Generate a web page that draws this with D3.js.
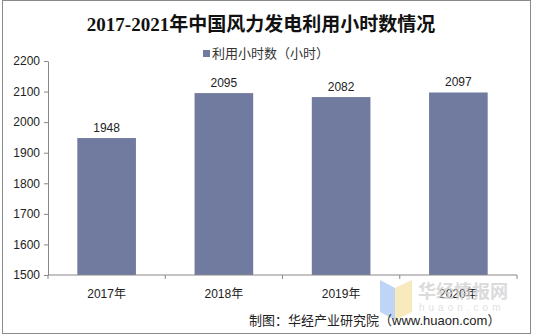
<!DOCTYPE html>
<html><head><meta charset="utf-8">
<script src="https://cdn.jsdelivr.net/npm/d3@7"></script>
<style>body{margin:0;background:#fff;}svg{display:block;}</style>
</head><body>
<svg id="c" width="533" height="335"></svg>
<script>
const title = "2017-2021年中国风力发电利用小时数情况";
const seriesName = "利用小时数（小时）";
const categories = ["2017年", "2018年", "2019年", "2020年"];
const values = [1948, 2095, 2082, 2097];
const yTicks = [1500, 1600, 1700, 1800, 1900, 2000, 2100, 2200];
const source = "制图：华经产业研究院（www.huaon.com）";

const svg = d3.select("#c");
const m = {l: 48, r: 517, t: 61, b: 275};
const barColor = "#717ba0";
const axisColor = "#888";
const sans = "'Liberation Sans', Arial, 'Noto Sans CJK SC', sans-serif";

svg.append("rect").attr("x", 2.5).attr("y", 0.5).attr("width", 528).attr("height", 333)
  .attr("fill", "#fff").attr("stroke", "#8a8a8a");

const x = d3.scaleBand().domain(categories).range([m.l, m.r]).paddingInner(0.5).paddingOuter(0.25);
const xb = d3.scaleBand().domain(categories).range([m.l, m.r]);
const y = d3.scaleLinear().domain([1500, 2200]).range([m.b, m.t]);

// title
svg.append("text").attr("x", 261).attr("y", 31).attr("text-anchor", "middle")
  .attr("font-family", "'Liberation Serif', 'Noto Sans CJK SC', serif").attr("font-weight", "bold")
  .attr("font-size", 19).attr("fill", "#111").text(title);

// legend
svg.append("rect").attr("x", 203).attr("y", 50).attr("width", 7).attr("height", 7).attr("fill", barColor);
svg.append("text").attr("x", 212).attr("y", 58).attr("font-family", sans).attr("font-size", 13)
  .attr("fill", "#333").text(seriesName);

// bars
svg.append("g").selectAll("rect").data(values).join("rect")
  .attr("x", (d, i) => x(categories[i])).attr("width", x.bandwidth())
  .attr("y", d => y(d)).attr("height", d => m.b - y(d)).attr("fill", barColor);

// labels
svg.append("g").selectAll("text").data(values).join("text")
  .attr("x", (d, i) => x(categories[i]) + x.bandwidth() / 2).attr("y", d => y(d) - 6)
  .attr("text-anchor", "middle").attr("font-family", sans).attr("font-size", 12).attr("fill", "#222")
  .text(d => d);

// y axis
const ya = svg.append("g").attr("transform", `translate(${m.l},0)`)
  .call(d3.axisLeft(y).tickValues(yTicks).tickFormat(d3.format("d")).tickSize(4).tickSizeOuter(0).tickPadding(4));
ya.selectAll("path,line").attr("stroke", axisColor);
ya.selectAll("text").attr("font-family", sans).attr("font-size", 12).attr("fill", "#222");

// x axis
const xg = svg.append("g").attr("transform", `translate(0,${m.b})`);
xg.append("line").attr("x1", m.l).attr("x2", m.r).attr("stroke", axisColor);
xg.selectAll("line.t").data(categories.concat([null])).join("line").attr("class", "t")
  .attr("x1", (d, i) => m.l + i * xb.bandwidth()).attr("x2", (d, i) => m.l + i * xb.bandwidth())
  .attr("y1", 0).attr("y2", 4).attr("stroke", axisColor);
xg.selectAll("text").data(categories).join("text")
  .attr("x", d => xb(d) + xb.bandwidth() / 2).attr("y", 23).attr("text-anchor", "middle")
  .attr("font-family", sans).attr("font-size", 12).attr("fill", "#222").text(d => d);

// watermark
const wm = svg.append("g").attr("opacity", 0.75);
wm.append("path").attr("d", "M380,280 L395,288 L395,320 L380,312 Z").attr("fill", "#a9c8f2");
wm.append("path").attr("d", "M395,288 L412,280 L412,312 L395,320 Z").attr("fill", "#f6e3a6");
wm.append("text").attr("x", 418).attr("y", 298).attr("font-family", "'Noto Sans CJK SC', sans-serif")
  .attr("font-weight", "bold").attr("font-size", 18).attr("fill", "#cfcfcf").text("华经情报网");
wm.append("text").attr("x", 419).attr("y", 311).attr("font-family", sans).attr("font-size", 10)
  .attr("letter-spacing", 4).attr("fill", "#d8d8d8").text("huaon.com");

// source
svg.append("text").attr("x", 249).attr("y", 325).attr("font-family", sans).attr("font-size", 13)
  .attr("fill", "#222").text(source);
</script>
</body></html>
